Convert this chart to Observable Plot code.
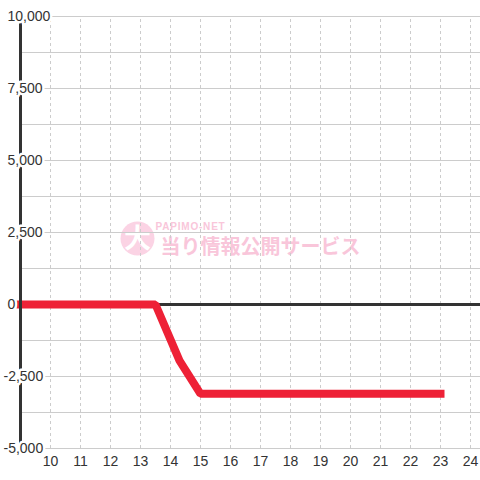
<!DOCTYPE html>
<html>
<head>
<meta charset="utf-8">
<script src="https://cdn.jsdelivr.net/npm/d3@7"></script>
<script src="https://cdn.jsdelivr.net/npm/@observablehq/plot@0.6"></script>
<style>
  html, body { margin: 0; padding: 0; background: #ffffff; }
  #chart svg { display: block; }
</style>
</head>
<body>
<div id="chart"></div>
<script>
// Data
const games = [9, 13.5, 14.3, 15, 23];          // x (thousand games)
const balance = [0, 0, -1950, -3100, -3100];    // y (medals)
const xTicks = [10, 11, 12, 13, 14, 15, 16, 17, 18, 19, 20, 21, 22, 23, 24];
const yLabels = [10000, 7500, 5000, 2500, 0, -2500, -5000];
const yGrid = [10000, 8750, 7500, 6250, 5000, 3750, 2500, 1250, -1250, -2500, -3750, -5000];
const xDomain = [8.3333, 24.3333];
const yDomain = [-5000, 10000];
const axisAt = 9;

const series = games.map((g, i) => ({x: g, y: balance[i]}));
const fmt = d => d3.format(",")(d).replace("\u2212", "-");
const font = "'Liberation Sans', Arial, sans-serif";

const chart = Plot.plot({
  width: 480,
  height: 480,
  marginTop: 16,
  marginBottom: 32,
  marginLeft: 0,
  marginRight: 0,
  style: {background: "#ffffff", fontFamily: font},
  x: {domain: xDomain, axis: null},
  y: {domain: yDomain, axis: null},
  marks: [
    // watermark
    Plot.dot([0], {frameAnchor: "middle", dx: -103, dy: 6, r: 17, fill: "#fbd3e4", stroke: "none"}),
    Plot.text(["大"], {frameAnchor: "middle", dx: -103, dy: 7, text: d => d, fill: "#ffffff",
      fontSize: 27, fontWeight: "bold", fontFamily: "'Noto Sans CJK JP', sans-serif"}),
    Plot.text(["PAPIMO-NET"], {frameAnchor: "middle", dx: -50, dy: -6, text: d => d, fill: "#f9c6da",
      fontSize: 10, fontWeight: "bold", fontFamily: font, textAnchor: "middle"}),
    Plot.text(["当り情報公開サービス"], {frameAnchor: "middle", dx: 20, dy: 15, text: d => d, fill: "#f9c6da",
      fontSize: 20, fontWeight: "bold", fontFamily: "'Noto Sans CJK JP', sans-serif"}),
    // grid
    Plot.ruleY(yGrid, {y: d => d, x1: axisAt, x2: xDomain[1], stroke: "#cccccc", strokeWidth: 1}),
    Plot.ruleX(xTicks, {x: d => d, y1: yDomain[0], y2: yDomain[1], stroke: "#cccccc", strokeWidth: 1, strokeDasharray: "3,3"}),
    // zero line
    Plot.ruleY([0], {y: d => d, x1: axisAt, x2: xDomain[1], stroke: "#333333", strokeWidth: 3}),
    // series
    Plot.line(series, {x: "x", y: "y", stroke: "#ee2136", strokeWidth: 8, strokeLinejoin: "miter", strokeLinecap: "square", curve: "linear"}),
    // y axis line
    Plot.ruleX([axisAt], {x: d => d, y1: yDomain[0], y2: yDomain[1], stroke: "#333333", strokeWidth: 3}),
    // y labels
    Plot.text(yLabels.filter(d => d >= 0), {y: d => d, text: fmt, frameAnchor: "left", dx: 7, textAnchor: "start",
      fill: "#333333", stroke: "#ffffff", strokeWidth: 5, fontSize: 14, fontFamily: font}),
    Plot.text(yLabels.filter(d => d < 0), {y: d => d, text: fmt, frameAnchor: "left", dx: 3, textAnchor: "start",
      fill: "#333333", stroke: "#ffffff", strokeWidth: 5, fontSize: 14, fontFamily: font}),
    // x labels
    Plot.text(xTicks, {x: d => d, text: d => String(d), frameAnchor: "bottom", dy: 13, lineAnchor: "middle",
      fill: "#333333", fontSize: 14, fontFamily: font})
  ]
});

d3.select(chart).selectAll("text").filter(function() { return this.textContent === "PAPIMO-NET"; })
  .attr("letter-spacing", "0.8");

document.getElementById("chart").appendChild(chart);
</script>
</body>
</html>
